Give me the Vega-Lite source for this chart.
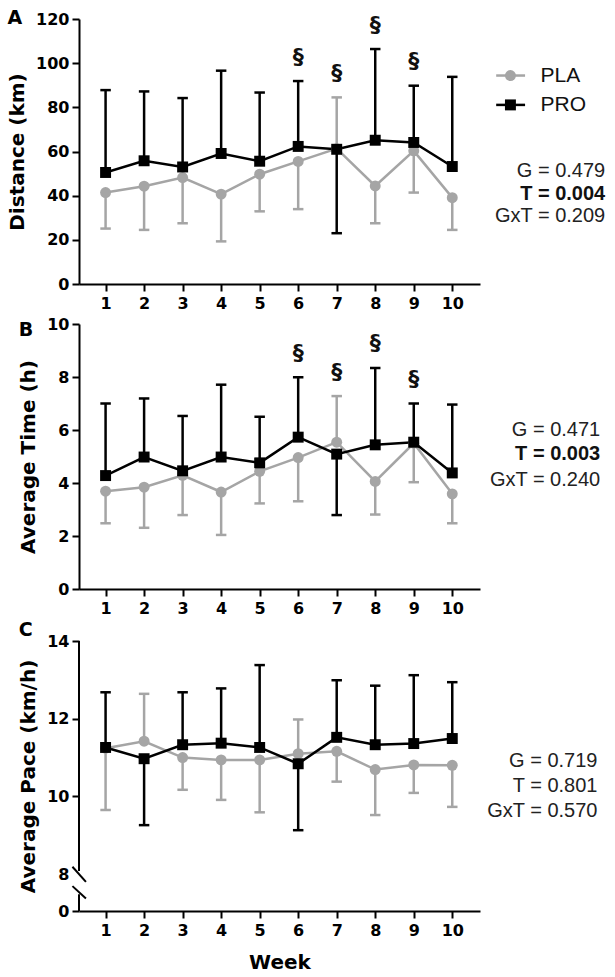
{
  "$schema": "https://vega.github.io/schema/vega-lite/v6.json",
  "background": "white",
  "padding": {"left": 7, "top": 8, "right": 5, "bottom": 5},
  "config": {
    "view": {"stroke": null},
    "font": "DejaVu Sans",
    "axis": {"grid": false, "domainColor": "black", "domainWidth": 2, "tickColor": "black", "tickWidth": 2, "tickSize": 7,
      "labelFont": "DejaVu Sans", "labelFontWeight": "bold", "labelFontSize": 16, "labelColor": "black",
      "titleFont": "DejaVu Sans", "titleFontWeight": "bold", "titleFontSize": 20, "titleColor": "black"},
    "axisY": {"labelPadding": 3, "titlePadding": 8},
    "axisX": {"labelPadding": 4, "titlePadding": 14},
    "title": {"fontSize": 19, "fontWeight": "bold", "anchor": "start", "frame": "bounds", "color": "black", "font": "DejaVu Sans"}
  },
  "datasets": {
    "main": [
      {"panel": "A", "group": "PLA", "week": 1, "mean": 41.4, "end": 25.1},
      {"panel": "A", "group": "PLA", "week": 2, "mean": 44.3, "end": 24.5},
      {"panel": "A", "group": "PLA", "week": 3, "mean": 48.2, "end": 27.5},
      {"panel": "A", "group": "PLA", "week": 4, "mean": 40.7, "end": 19.3},
      {"panel": "A", "group": "PLA", "week": 5, "mean": 49.7, "end": 32.9},
      {"panel": "A", "group": "PLA", "week": 6, "mean": 55.5, "end": 33.9, "sig": true},
      {"panel": "A", "group": "PLA", "week": 7, "mean": 61.3, "end": 84.5, "sig": true},
      {"panel": "A", "group": "PLA", "week": 8, "mean": 44.4, "end": 27.5, "sig": true},
      {"panel": "A", "group": "PLA", "week": 9, "mean": 60.3, "end": 41.4, "sig": true},
      {"panel": "A", "group": "PLA", "week": 10, "mean": 39.1, "end": 24.5},
      {"panel": "A", "group": "PRO", "week": 1, "mean": 50.5, "end": 87.8},
      {"panel": "A", "group": "PRO", "week": 2, "mean": 55.8, "end": 87.2},
      {"panel": "A", "group": "PRO", "week": 3, "mean": 53.0, "end": 84.2},
      {"panel": "A", "group": "PRO", "week": 4, "mean": 59.1, "end": 96.6},
      {"panel": "A", "group": "PRO", "week": 5, "mean": 55.6, "end": 86.7},
      {"panel": "A", "group": "PRO", "week": 6, "mean": 62.3, "end": 91.9, "sig": true},
      {"panel": "A", "group": "PRO", "week": 7, "mean": 61.0, "end": 23.0, "sig": true},
      {"panel": "A", "group": "PRO", "week": 8, "mean": 65.1, "end": 106.4, "sig": true},
      {"panel": "A", "group": "PRO", "week": 9, "mean": 64.1, "end": 89.8, "sig": true},
      {"panel": "A", "group": "PRO", "week": 10, "mean": 53.2, "end": 93.8},
      {"panel": "B", "group": "PLA", "week": 1, "mean": 3.69, "end": 2.48},
      {"panel": "B", "group": "PLA", "week": 2, "mean": 3.84, "end": 2.31},
      {"panel": "B", "group": "PLA", "week": 3, "mean": 4.29, "end": 2.79},
      {"panel": "B", "group": "PLA", "week": 4, "mean": 3.66, "end": 2.04},
      {"panel": "B", "group": "PLA", "week": 5, "mean": 4.44, "end": 3.23},
      {"panel": "B", "group": "PLA", "week": 6, "mean": 4.96, "end": 3.31, "sig": true},
      {"panel": "B", "group": "PLA", "week": 7, "mean": 5.54, "end": 7.28, "sig": true},
      {"panel": "B", "group": "PLA", "week": 8, "mean": 4.06, "end": 2.81, "sig": true},
      {"panel": "B", "group": "PLA", "week": 9, "mean": 5.5, "end": 4.03, "sig": true},
      {"panel": "B", "group": "PLA", "week": 10, "mean": 3.59, "end": 2.48},
      {"panel": "B", "group": "PRO", "week": 1, "mean": 4.28, "end": 7.0},
      {"panel": "B", "group": "PRO", "week": 2, "mean": 4.98, "end": 7.19},
      {"panel": "B", "group": "PRO", "week": 3, "mean": 4.46, "end": 6.53},
      {"panel": "B", "group": "PRO", "week": 4, "mean": 4.98, "end": 7.71},
      {"panel": "B", "group": "PRO", "week": 5, "mean": 4.76, "end": 6.5},
      {"panel": "B", "group": "PRO", "week": 6, "mean": 5.73, "end": 7.99, "sig": true},
      {"panel": "B", "group": "PRO", "week": 7, "mean": 5.09, "end": 2.79, "sig": true},
      {"panel": "B", "group": "PRO", "week": 8, "mean": 5.44, "end": 8.34, "sig": true},
      {"panel": "B", "group": "PRO", "week": 9, "mean": 5.54, "end": 7.0, "sig": true},
      {"panel": "B", "group": "PRO", "week": 10, "mean": 4.38, "end": 6.96},
      {"panel": "C", "group": "PLA", "week": 1, "mean": 11.24, "end": 9.65},
      {"panel": "C", "group": "PLA", "week": 2, "mean": 11.42, "end": 12.64},
      {"panel": "C", "group": "PLA", "week": 3, "mean": 11.0, "end": 10.17},
      {"panel": "C", "group": "PLA", "week": 4, "mean": 10.94, "end": 9.91},
      {"panel": "C", "group": "PLA", "week": 5, "mean": 10.94, "end": 9.59},
      {"panel": "C", "group": "PLA", "week": 6, "mean": 11.1, "end": 11.98},
      {"panel": "C", "group": "PLA", "week": 7, "mean": 11.16, "end": 10.38},
      {"panel": "C", "group": "PLA", "week": 8, "mean": 10.69, "end": 9.52},
      {"panel": "C", "group": "PLA", "week": 9, "mean": 10.81, "end": 10.09},
      {"panel": "C", "group": "PLA", "week": 10, "mean": 10.8, "end": 9.73},
      {"panel": "C", "group": "PRO", "week": 1, "mean": 11.26, "end": 12.68},
      {"panel": "C", "group": "PRO", "week": 2, "mean": 10.97, "end": 9.26},
      {"panel": "C", "group": "PRO", "week": 3, "mean": 11.33, "end": 12.68},
      {"panel": "C", "group": "PRO", "week": 4, "mean": 11.37, "end": 12.78},
      {"panel": "C", "group": "PRO", "week": 5, "mean": 11.26, "end": 13.38},
      {"panel": "C", "group": "PRO", "week": 6, "mean": 10.84, "end": 9.13},
      {"panel": "C", "group": "PRO", "week": 7, "mean": 11.52, "end": 12.99},
      {"panel": "C", "group": "PRO", "week": 8, "mean": 11.33, "end": 12.85},
      {"panel": "C", "group": "PRO", "week": 9, "mean": 11.36, "end": 13.12},
      {"panel": "C", "group": "PRO", "week": 10, "mean": 11.49, "end": 12.94},
      {"panel": "A", "stat": "G", "label": "G = 0.479"},
      {"panel": "A", "stat": "T", "label": "T = 0.004"},
      {"panel": "A", "stat": "GxT", "label": "GxT = 0.209"},
      {"panel": "B", "stat": "G", "label": "G = 0.471"},
      {"panel": "B", "stat": "T", "label": "T = 0.003"},
      {"panel": "B", "stat": "GxT", "label": "GxT = 0.240"},
      {"panel": "C", "stat": "G", "label": "G = 0.719"},
      {"panel": "C", "stat": "T", "label": "T = 0.801"},
      {"panel": "C", "stat": "GxT", "label": "GxT = 0.570"}
    ]
  },
  "spacing": 5,
  "resolve": {"scale": {"color": "independent", "shape": "independent", "stroke": "independent"}},
  "vconcat": [
    {
      "title": {"text": "A", "offset": -16.5},
      "width": 401, "height": 265,
      "data": {"name": "main"},
      "transform": [{"filter": "datum.panel == 'A'"}],
      "layer": [
        {"transform": [{"filter": "isValid(datum.mean)"}], "mark": {"type": "rule", "strokeWidth": 2.5}, "encoding": {
          "x": {"field": "week", "type": "quantitative", "scale": {"domain": [0.31, 10.72], "nice": false, "zero": false}, "axis": {"values": [1,2,3,4,5,6,7,8,9,10], "format": "d", "title": null}},
          "y": {"field": "mean", "type": "quantitative", "title": "Distance (km)", "scale": {"domain": [0, 120], "nice": false}, "axis": {"values": [0,20,40,60,80,100,120]}},
          "y2": {"field": "end"},
          "stroke": {"field": "group", "type": "nominal", "scale": {"domain": ["PLA", "PRO"], "range": ["#a5a5a5", "#000000"]}, "legend": null}}},
        {"transform": [{"filter": "isValid(datum.mean)"}], "mark": {"type": "point", "shape": "stroke", "size": 110, "strokeWidth": 2.5, "opacity": 1}, "encoding": {
          "x": {"field": "week", "type": "quantitative", "title": null},
          "y": {"field": "end", "type": "quantitative", "title": "Distance (km)"},
          "stroke": {"field": "group", "type": "nominal", "scale": {"domain": ["PLA", "PRO"], "range": ["#a5a5a5", "#000000"]}, "legend": null}}},
        {"transform": [{"filter": "isValid(datum.mean)"}], "mark": {"type": "line", "strokeWidth": 2.5}, "encoding": {
          "x": {"field": "week", "type": "quantitative", "title": null},
          "y": {"field": "mean", "type": "quantitative", "title": "Distance (km)"},
          "stroke": {"field": "group", "type": "nominal", "scale": {"domain": ["PLA", "PRO"], "range": ["#a5a5a5", "#000000"]}, "legend": null}}},
        {"transform": [{"filter": "isValid(datum.mean)"}], "mark": {"type": "point", "filled": true, "opacity": 1, "size": 120}, "encoding": {
          "x": {"field": "week", "type": "quantitative", "title": null},
          "y": {"field": "mean", "type": "quantitative", "title": "Distance (km)"},
          "color": {"field": "group", "type": "nominal", "scale": {"domain": ["PLA", "PRO"], "range": ["#a5a5a5", "#000000"]}, "legend": null},
          "shape": {"field": "group", "type": "nominal", "scale": {"domain": ["PLA", "PRO"], "range": ["circle", "square"]}, "legend": null}}},
        {"transform": [{"filter": "datum.sig"}, {"aggregate": [{"op": "max", "field": "end", "as": "top"}], "groupby": ["week"]}],
          "mark": {"type": "text", "text": "§", "dy": -24.5, "fontSize": 22, "fontWeight": "bold", "font": "DejaVu Sans", "baseline": "middle", "color": "#111111"},
          "encoding": {"x": {"field": "week", "type": "quantitative", "title": null}, "y": {"field": "top", "type": "quantitative", "title": "Distance (km)"}}},
        {"transform": [{"filter": "datum.stat == 'G'"}],
          "mark": {"type": "text", "align": "right", "baseline": "middle", "font": "Liberation Sans", "fontSize": 20, "color": "#222222"},
          "encoding": {"x": {"datum": 13.97}, "y": {"datum": 51.3}, "text": {"field": "label"}}},
        {"transform": [{"filter": "datum.stat == 'T'"}],
          "mark": {"type": "text", "align": "right", "baseline": "middle", "font": "Liberation Sans", "fontSize": 20, "fontWeight": "bold", "color": "#111111"},
          "encoding": {"x": {"datum": 13.97}, "y": {"datum": 40.8}, "text": {"field": "label"}}},
        {"transform": [{"filter": "datum.stat == 'GxT'"}],
          "mark": {"type": "text", "align": "right", "baseline": "middle", "font": "Liberation Sans", "fontSize": 20, "color": "#222222"},
          "encoding": {"x": {"datum": 13.97}, "y": {"datum": 30.9}, "text": {"field": "label"}}},
        {"transform": [{"filter": "datum.week == 1 && datum.group == 'PLA'"}], "mark": {"type": "rule", "strokeWidth": 2.5},
          "encoding": {"x": {"datum": 11.14}, "x2": {"datum": 11.89}, "y": {"datum": 94.4},
            "stroke": {"field": "group", "type": "nominal", "scale": {"domain": ["PLA", "PRO"], "range": ["#a5a5a5", "#000000"]}, "legend": null}}},
        {"transform": [{"filter": "datum.week == 1 && datum.group == 'PRO'"}], "mark": {"type": "rule", "strokeWidth": 2.5},
          "encoding": {"x": {"datum": 11.14}, "x2": {"datum": 11.89}, "y": {"datum": 81.1},
            "stroke": {"field": "group", "type": "nominal", "scale": {"domain": ["PLA", "PRO"], "range": ["#a5a5a5", "#000000"]}, "legend": null}}},
        {"transform": [{"filter": "datum.week == 1 && datum.group == 'PLA'"}], "mark": {"type": "point", "filled": true, "opacity": 1, "size": 120},
          "encoding": {"x": {"datum": 11.51}, "y": {"datum": 94.4},
            "color": {"field": "group", "type": "nominal", "scale": {"domain": ["PLA", "PRO"], "range": ["#a5a5a5", "#000000"]}, "legend": null},
            "shape": {"field": "group", "type": "nominal", "scale": {"domain": ["PLA", "PRO"], "range": ["circle", "square"]}, "legend": null}}},
        {"transform": [{"filter": "datum.week == 1 && datum.group == 'PRO'"}], "mark": {"type": "point", "filled": true, "opacity": 1, "size": 120},
          "encoding": {"x": {"datum": 11.51}, "y": {"datum": 81.1},
            "color": {"field": "group", "type": "nominal", "scale": {"domain": ["PLA", "PRO"], "range": ["#a5a5a5", "#000000"]}, "legend": null},
            "shape": {"field": "group", "type": "nominal", "scale": {"domain": ["PLA", "PRO"], "range": ["circle", "square"]}, "legend": null}}},
        {"transform": [{"filter": "datum.week == 1 && datum.group == 'PLA'"}], "mark": {"type": "text", "align": "left", "baseline": "middle", "font": "Liberation Sans", "fontSize": 21, "color": "#111111"},
          "encoding": {"x": {"datum": 12.29}, "y": {"datum": 94.4}, "text": {"field": "group"}}},
        {"transform": [{"filter": "datum.week == 1 && datum.group == 'PRO'"}], "mark": {"type": "text", "align": "left", "baseline": "middle", "font": "Liberation Sans", "fontSize": 21, "color": "#111111"},
          "encoding": {"x": {"datum": 12.29}, "y": {"datum": 81.1}, "text": {"field": "group"}}}
      ]
    },
    {
      "title": {"text": "B", "offset": -24},
      "width": 401, "height": 265,
      "data": {"name": "main"},
      "transform": [{"filter": "datum.panel == 'B'"}],
      "layer": [
        {"transform": [{"filter": "isValid(datum.mean)"}], "mark": {"type": "rule", "strokeWidth": 2.5}, "encoding": {
          "x": {"field": "week", "type": "quantitative", "scale": {"domain": [0.31, 10.72], "nice": false, "zero": false}, "axis": {"values": [1,2,3,4,5,6,7,8,9,10], "format": "d", "title": null}},
          "y": {"field": "mean", "type": "quantitative", "title": "Average Time (h)", "scale": {"domain": [0, 10], "nice": false}, "axis": {"values": [0,2,4,6,8,10]}},
          "y2": {"field": "end"},
          "stroke": {"field": "group", "type": "nominal", "scale": {"domain": ["PLA", "PRO"], "range": ["#a5a5a5", "#000000"]}, "legend": null}}},
        {"transform": [{"filter": "isValid(datum.mean)"}], "mark": {"type": "point", "shape": "stroke", "size": 110, "strokeWidth": 2.5, "opacity": 1}, "encoding": {
          "x": {"field": "week", "type": "quantitative", "title": null},
          "y": {"field": "end", "type": "quantitative", "title": "Average Time (h)"},
          "stroke": {"field": "group", "type": "nominal", "scale": {"domain": ["PLA", "PRO"], "range": ["#a5a5a5", "#000000"]}, "legend": null}}},
        {"transform": [{"filter": "isValid(datum.mean)"}], "mark": {"type": "line", "strokeWidth": 2.5}, "encoding": {
          "x": {"field": "week", "type": "quantitative", "title": null},
          "y": {"field": "mean", "type": "quantitative", "title": "Average Time (h)"},
          "stroke": {"field": "group", "type": "nominal", "scale": {"domain": ["PLA", "PRO"], "range": ["#a5a5a5", "#000000"]}, "legend": null}}},
        {"transform": [{"filter": "isValid(datum.mean)"}], "mark": {"type": "point", "filled": true, "opacity": 1, "size": 120}, "encoding": {
          "x": {"field": "week", "type": "quantitative", "title": null},
          "y": {"field": "mean", "type": "quantitative", "title": "Average Time (h)"},
          "color": {"field": "group", "type": "nominal", "scale": {"domain": ["PLA", "PRO"], "range": ["#a5a5a5", "#000000"]}, "legend": null},
          "shape": {"field": "group", "type": "nominal", "scale": {"domain": ["PLA", "PRO"], "range": ["circle", "square"]}, "legend": null}}},
        {"transform": [{"filter": "datum.sig"}, {"aggregate": [{"op": "max", "field": "end", "as": "top"}], "groupby": ["week"]}],
          "mark": {"type": "text", "text": "§", "dy": -24.5, "fontSize": 22, "fontWeight": "bold", "font": "DejaVu Sans", "baseline": "middle", "color": "#111111"},
          "encoding": {"x": {"field": "week", "type": "quantitative", "title": null}, "y": {"field": "top", "type": "quantitative", "title": "Average Time (h)"}}},
        {"transform": [{"filter": "datum.stat == 'G'"}],
          "mark": {"type": "text", "align": "right", "baseline": "middle", "font": "Liberation Sans", "fontSize": 20, "color": "#222222"},
          "encoding": {"x": {"datum": 13.84}, "y": {"datum": 6.0}, "text": {"field": "label"}}},
        {"transform": [{"filter": "datum.stat == 'T'"}],
          "mark": {"type": "text", "align": "right", "baseline": "middle", "font": "Liberation Sans", "fontSize": 20, "fontWeight": "bold", "color": "#111111"},
          "encoding": {"x": {"datum": 13.84}, "y": {"datum": 5.1}, "text": {"field": "label"}}},
        {"transform": [{"filter": "datum.stat == 'GxT'"}],
          "mark": {"type": "text", "align": "right", "baseline": "middle", "font": "Liberation Sans", "fontSize": 20, "color": "#222222"},
          "encoding": {"x": {"datum": 13.84}, "y": {"datum": 4.13}, "text": {"field": "label"}}}
      ]
    },
    {
      "title": {"text": "C", "offset": -7},
      "width": 401, "height": 270,
      "data": {"name": "main"},
      "transform": [{"filter": "datum.panel == 'C'"}],
      "layer": [
        {"transform": [{"filter": "isValid(datum.mean)"}], "mark": {"type": "rule", "strokeWidth": 2.5}, "encoding": {
          "x": {"field": "week", "type": "quantitative", "scale": {"domain": [0.31, 10.72], "nice": false, "zero": false}, "axis": {"values": [1,2,3,4,5,6,7,8,9,10], "format": "d", "title": "Week"}},
          "y": {"field": "mean", "type": "quantitative", "title": "Average Pace (km/h)", "scale": {"domain": [7.05, 14], "nice": false, "zero": false},
            "axis": {"values": [7.05, 8, 10, 12, 14], "domain": false, "labelExpr": "datum.value < 7.5 ? '0' : '' + datum.value",
              "tickColor": {"condition": {"test": "datum.value == 8", "value": "transparent"}, "value": "black"}}},
          "y2": {"field": "end"},
          "stroke": {"field": "group", "type": "nominal", "scale": {"domain": ["PLA", "PRO"], "range": ["#a5a5a5", "#000000"]}, "legend": null}}},
        {"transform": [{"filter": "isValid(datum.mean)"}], "mark": {"type": "point", "shape": "stroke", "size": 110, "strokeWidth": 2.5, "opacity": 1}, "encoding": {
          "x": {"field": "week", "type": "quantitative", "title": "Week"},
          "y": {"field": "end", "type": "quantitative", "title": "Average Pace (km/h)"},
          "stroke": {"field": "group", "type": "nominal", "scale": {"domain": ["PLA", "PRO"], "range": ["#a5a5a5", "#000000"]}, "legend": null}}},
        {"transform": [{"filter": "isValid(datum.mean)"}], "mark": {"type": "line", "strokeWidth": 2.5}, "encoding": {
          "x": {"field": "week", "type": "quantitative", "title": "Week"},
          "y": {"field": "mean", "type": "quantitative", "title": "Average Pace (km/h)"},
          "stroke": {"field": "group", "type": "nominal", "scale": {"domain": ["PLA", "PRO"], "range": ["#a5a5a5", "#000000"]}, "legend": null}}},
        {"transform": [{"filter": "isValid(datum.mean)"}], "mark": {"type": "point", "filled": true, "opacity": 1, "size": 120}, "encoding": {
          "x": {"field": "week", "type": "quantitative", "title": "Week"},
          "y": {"field": "mean", "type": "quantitative", "title": "Average Pace (km/h)"},
          "color": {"field": "group", "type": "nominal", "scale": {"domain": ["PLA", "PRO"], "range": ["#a5a5a5", "#000000"]}, "legend": null},
          "shape": {"field": "group", "type": "nominal", "scale": {"domain": ["PLA", "PRO"], "range": ["circle", "square"]}, "legend": null}}},
        {"transform": [{"filter": "datum.stat == 'G'"}], "mark": {"type": "rule", "strokeWidth": 2, "color": "black"}, "encoding": {"x": {"datum": 0.31}, "y": {"datum": 8.08}, "y2": {"datum": 14}}},
        {"transform": [{"filter": "datum.stat == 'G'"}], "mark": {"type": "rule", "strokeWidth": 2, "color": "black"}, "encoding": {"x": {"datum": 0.31}, "y": {"datum": 7.05}, "y2": {"datum": 7.48}}},
        {"transform": [{"filter": "datum.stat == 'G'"}], "mark": {"type": "rule", "strokeWidth": 2, "color": "black"}, "encoding": {"x": {"datum": 0.14}, "x2": {"datum": 0.49}, "y": {"datum": 8.19}, "y2": {"datum": 7.8}}},
        {"transform": [{"filter": "datum.stat == 'G'"}], "mark": {"type": "rule", "strokeWidth": 2, "color": "black"}, "encoding": {"x": {"datum": 0.14}, "x2": {"datum": 0.49}, "y": {"datum": 7.69}, "y2": {"datum": 7.37}}},
        {"transform": [{"filter": "datum.stat == 'G'"}],
          "mark": {"type": "text", "align": "right", "baseline": "middle", "font": "Liberation Sans", "fontSize": 20, "color": "#222222"},
          "encoding": {"x": {"datum": 13.77}, "y": {"datum": 10.92}, "text": {"field": "label"}}},
        {"transform": [{"filter": "datum.stat == 'T'"}],
          "mark": {"type": "text", "align": "right", "baseline": "middle", "font": "Liberation Sans", "fontSize": 20, "color": "#222222"},
          "encoding": {"x": {"datum": 13.77}, "y": {"datum": 10.27}, "text": {"field": "label"}}},
        {"transform": [{"filter": "datum.stat == 'GxT'"}],
          "mark": {"type": "text", "align": "right", "baseline": "middle", "font": "Liberation Sans", "fontSize": 20, "color": "#222222"},
          "encoding": {"x": {"datum": 13.77}, "y": {"datum": 9.62}, "text": {"field": "label"}}}
      ]
    }
  ]
}
